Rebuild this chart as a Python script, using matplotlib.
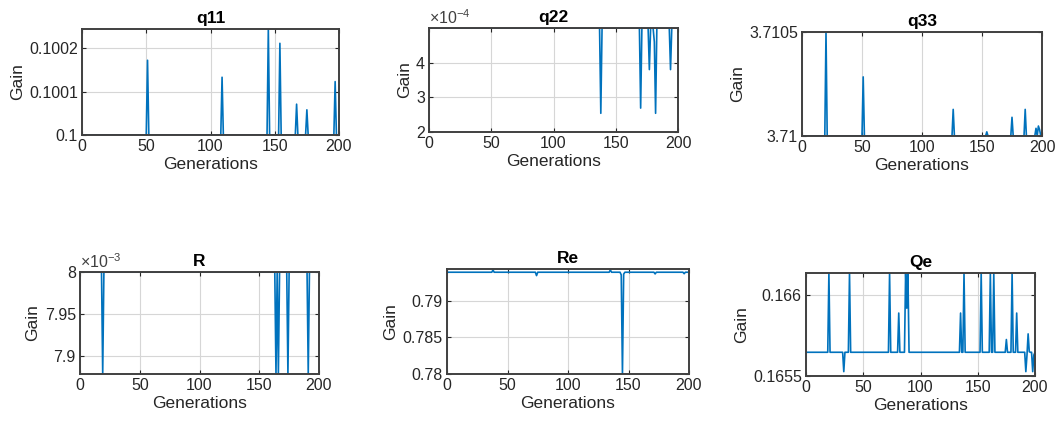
import numpy as np
import matplotlib
matplotlib.use("Agg")
import matplotlib.pyplot as plt
from matplotlib.ticker import FixedLocator, FixedFormatter

plt.rcParams['font.family'] = ['Liberation Sans', 'DejaVu Sans']
plt.rcParams['mathtext.default'] = 'regular'

# ---------------- data ----------------
n_gen = 200
xticks = [0, 50, 100, 150, 200]

titles = ["q11", "q22", "q33", "R", "Re", "Qe"]

q11_base = 0.1
q11_gen = [51, 109, 145, 154, 167, 175, 197]
q11_val = [0.100172, 0.100133, 0.100244, 0.100211, 0.100071, 0.100058, 0.100123]

q22_base = 5e-4
q22_gen = [138, 170, 177, 181, 182, 194]
q22_val = [2.54e-4, 2.69e-4, 3.8e-4, 4.6e-4, 2.54e-4, 3.8e-4]

q33_base = 3.71
q33_gen = [20, 51, 126, 154, 175, 186, 195, 197, 198]
q33_val = [3.7105, 3.710284, 3.710128, 3.710020, 3.710090, 3.710128, 3.710037, 3.710048, 3.710030]

R_base = 8e-3
R_gen = [19, 164, 166, 174, 191]
R_val = [7.878e-3, 7.878e-3, 7.878e-3, 7.878e-3, 7.878e-3]

Re_base = 0.79386
Re_gen = [38, 74, 135, 144, 145, 146, 172, 196]
Re_val = [0.79417, 0.79340, 0.79417, 0.79350, 0.78, 0.79360, 0.79363, 0.79366]

Qe_base = 0.165647
Qe_gen = [20, 33, 38, 73, 81, 87, 88, 89, 135, 138, 153, 161, 164, 175, 180, 184,
          192, 193, 194, 195, 198, 199]
Qe_val = [0.166138, 0.165527, 0.166138, 0.166138, 0.165890, 0.166138, 0.165920, 0.166138,
          0.165890, 0.166138, 0.166138, 0.166138, 0.166138, 0.165726, 0.166138, 0.165890,
          0.165527, 0.165630, 0.165761, 0.165650, 0.165527, 0.165630]

ylims = [(0.1, 0.100244), (2e-4, 5e-4), (3.71, 3.7105),
         (7.878e-3, 8e-3), (0.78, 0.7943), (0.1655, 0.166138)]
yticks = [[0.1, 0.1001, 0.1002], [2e-4, 3e-4, 4e-4], [3.71, 3.7105],
          [7.9e-3, 7.95e-3, 8e-3], [0.78, 0.785, 0.79], [0.1655, 0.166]]
yticklabels = [["0.1", "0.1001", "0.1002"], ["2", "3", "4"], ["3.71", "3.7105"],
               ["7.9", "7.95", "8"], ["0.78", "0.785", "0.79"], ["0.1655", "0.166"]]
exponents = [None, "-4", None, "-3", None, None]

bases = [q11_base, q22_base, q33_base, R_base, Re_base, Qe_base]
spike_gens = [q11_gen, q22_gen, q33_gen, R_gen, Re_gen, Qe_gen]
spike_vals = [q11_val, q22_val, q33_val, R_val, Re_val, Qe_val]

# axes boxes in pixels: left, top, right, bottom
boxes = [(82, 29, 339, 135), (429, 28, 678, 132), (802, 32, 1042, 136),
         (80, 272, 319, 374), (447, 269, 689, 374), (806, 273, 1035, 376)]

W, H = 1057, 425
fig = plt.figure(figsize=(W / 100, H / 100), dpi=100)

gens = np.arange(1, n_gen + 1)
line_color = '#0072BD'
ax_color = '#262626'

for i in range(6):
    l, t, r, b = boxes[i]
    ax = fig.add_axes([l / W, 1 - b / H, (r - l) / W, (b - t) / H])
    y = np.full(n_gen, bases[i], dtype=float)
    for g, v in zip(spike_gens[i], spike_vals[i]):
        y[g - 1] = v
    ax.plot(gens, y, color=line_color, lw=1.2)
    ax.set_xlim(0, 200)
    ax.set_ylim(*ylims[i])
    ax.set_xticks(xticks)
    ax.yaxis.set_major_locator(FixedLocator(yticks[i]))
    ax.yaxis.set_major_formatter(FixedFormatter(yticklabels[i]))
    ax.grid(True, color='#d6d6d6', lw=0.8)
    ax.set_axisbelow(True)
    for s in ax.spines.values():
        s.set_color('#404040')
        s.set_linewidth(1.4)
    ax.tick_params(direction='in', length=3, width=0.8, top=True, right=True,
                   labelsize=11.5, colors=ax_color, pad=3)
    ax.set_xlabel("Generations", fontsize=12.5, color=ax_color, labelpad=2)
    ax.set_ylabel("Gain", fontsize=12.5, color=ax_color, labelpad=3)
    ax.set_title(titles[i], fontsize=12.5, fontweight='bold', color='black', pad=4)
    if exponents[i]:
        ax.text(0.0, 1.01, r'$\times10^{' + exponents[i] + '}$', transform=ax.transAxes,
                ha='left', va='bottom', fontsize=11.5, color='#404040')

fig.savefig("out.png", dpi=100)
